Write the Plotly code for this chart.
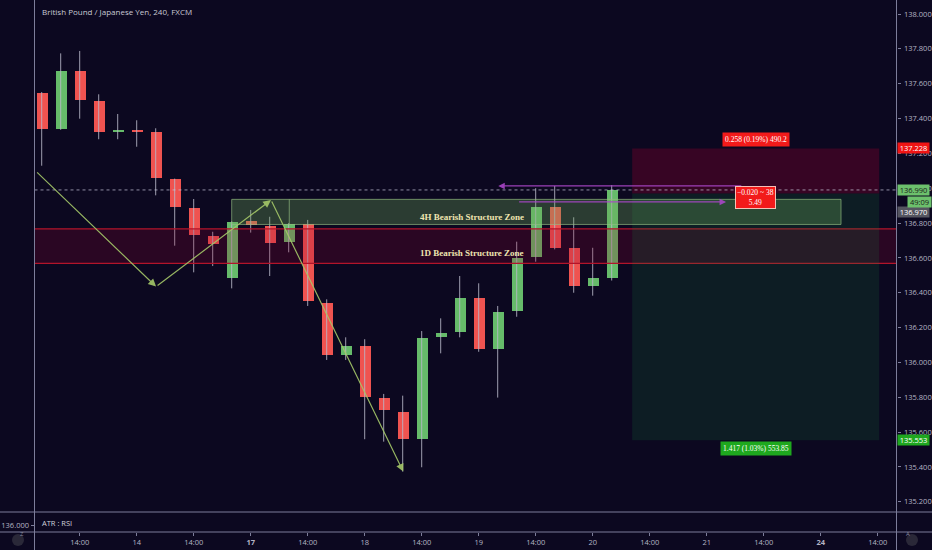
import plotly.graph_objects as go

# ---------------- data ----------------
candle_idx = list(range(31))
opens  = [137.545, 137.340, 137.675, 137.499, 137.325, 137.336, 137.323, 137.053, 136.886, 136.726,
          136.486, 136.812, 136.781, 136.689, 136.794, 136.343, 136.042, 136.094, 135.797, 135.717,
          135.560, 136.144, 136.173, 136.371, 136.075, 136.297, 136.603, 136.894, 136.655, 136.440, 136.486]
highs  = [137.552, 137.774, 137.788, 137.539, 137.426, 137.390, 137.344, 137.055, 136.938, 136.750,
          136.810, 136.875, 136.836, 136.800, 136.818, 136.362, 136.144, 136.133, 135.819, 135.809,
          136.180, 136.253, 136.496, 136.454, 136.324, 136.693, 137.000, 137.013, 136.833, 136.658, 137.018]
lows   = [137.129, 137.335, 137.399, 137.281, 137.281, 137.238, 136.959, 136.670, 136.517, 136.553,
          136.425, 136.745, 136.496, 136.632, 136.324, 136.014, 136.014, 135.559, 135.545, 135.373,
          135.398, 136.052, 136.144, 136.061, 135.798, 136.262, 136.578, 136.649, 136.400, 136.383, 136.470]
closes = [137.340, 137.675, 137.506, 137.321, 137.335, 137.328, 137.059, 136.894, 136.733, 136.681,
          136.808, 136.787, 136.687, 136.794, 136.352, 136.042, 136.094, 135.803, 135.725, 135.560,
          136.138, 136.170, 136.371, 136.075, 136.291, 136.601, 136.894, 136.658, 136.440, 136.486, 136.990]

tick_idx = [2, 5, 8, 11, 14, 17, 20, 23, 26, 29, 32, 35, 38, 41, 44]
tick_text = ["14:00", "14", "14:00", "<b>17</b>", "14:00", "18", "14:00", "19", "14:00", "20",
             "14:00", "21", "14:00", "<b>24</b>", "14:00"]
price_ticks = [135.2, 135.4, 135.6, 135.8, 136.0, 136.2, 136.4, 136.6, 136.8, 137.0,
               137.2, 137.4, 137.6, 137.8, 138.0]

zone_4h = [136.792, 136.936]
zone_4h_x = [10.0, 42.07]
zone_4h_split = 13.03
zone_1d = [136.569, 136.767]
trend_x = [-0.32, 6.02, 12.07, 19.03]
trend_y = [137.099, 136.435, 136.932, 135.373]
rr_x = [31.08, 44.08]
rr_stop, rr_entry, rr_target = 137.228, 136.970, 135.553
last_price = 136.990
purple_a = ([36.9, 24.03], 137.013)
purple_b = ([25.05, 36.02], 136.921)

# ---------------- style ----------------
BG = "#0c0820"
GREEN = "#66bb6a"
RED = "#ef5350"
WICK = "rgba(185,185,200,0.85)"
AXC = "#7d7d9a"
TXT = "#b4b4c4"
W, H = 932, 550
XL, XR = 34.5, 896.5
X_RANGE = [-0.379, 44.99]
Y_RANGE = [135.1412, 138.0804]

fig = go.Figure()

# wicks
wx, wy = [], []
for i, hi, lo in zip(candle_idx, highs, lows):
    wx += [i, i, None]
    wy += [lo, hi, None]
fig.add_trace(go.Scatter(x=wx, y=wy, mode="lines", line=dict(color=WICK, width=1),
                         hoverinfo="skip", showlegend=False))
# bodies
base = [min(o, c) for o, c in zip(opens, closes)]
height = [max(abs(c - o), 0.006) for o, c in zip(opens, closes)]
colors = [GREEN if c >= o else RED for o, c in zip(opens, closes)]
fig.add_trace(go.Bar(x=candle_idx, y=height, base=base, width=0.56,
                     marker=dict(color=colors, line=dict(width=0)), showlegend=False))

# ATR pane dummy trace
fig.add_trace(go.Scatter(x=[None], y=[None], xaxis="x2", yaxis="y2", showlegend=False))

shapes = []
# 1D zone
shapes.append(dict(type="rect", xref="x domain", yref="y", x0=0, x1=1, y0=zone_1d[0], y1=zone_1d[1],
                   fillcolor="rgba(150,0,45,0.22)", line=dict(width=0), layer="above"))
for yv in zone_1d:
    shapes.append(dict(type="line", xref="x domain", yref="y", x0=0, x1=1, y0=yv, y1=yv,
                       line=dict(color="#b3142a", width=1.3), layer="above"))
# RR boxes
shapes.append(dict(type="rect", xref="x", yref="y", x0=rr_x[0], x1=rr_x[1], y0=rr_entry, y1=rr_stop,
                   fillcolor="rgba(170,0,45,0.28)", line=dict(width=0), layer="above"))
shapes.append(dict(type="rect", xref="x", yref="y", x0=rr_x[0], x1=rr_x[1], y0=rr_target, y1=rr_entry,
                   fillcolor="rgba(20,140,60,0.16)", line=dict(width=0), layer="above"))
# 4H zone
shapes.append(dict(type="rect", xref="x", yref="y", x0=zone_4h_x[0], x1=zone_4h_x[1],
                   y0=zone_4h[0], y1=zone_4h[1], fillcolor="rgba(110,170,90,0.32)",
                   line=dict(color="rgba(150,190,130,0.65)", width=1), layer="above"))
shapes.append(dict(type="line", xref="x", yref="y", x0=zone_4h_split, x1=zone_4h_split,
                   y0=zone_4h[0], y1=zone_4h[1], line=dict(color="rgba(150,190,130,0.65)", width=1),
                   layer="above"))
# last price dotted line
shapes.append(dict(type="line", xref="x domain", yref="y", x0=0, x1=1, y0=last_price, y1=last_price,
                   line=dict(color="rgba(200,200,220,0.7)", width=1, dash="dot"), layer="above"))
# pane frame lines
for xp in (XL, XR):
    shapes.append(dict(type="line", xref="paper", yref="paper", x0=xp / W, x1=xp / W, y0=0, y1=1,
                       line=dict(color=AXC, width=1)))
for yp in (512, 532):
    shapes.append(dict(type="line", xref="paper", yref="paper", x0=0, x1=1, y0=1 - yp / H, y1=1 - yp / H,
                       line=dict(color=AXC, width=1)))
# circle buttons
for cx in (18, 912):
    shapes.append(dict(type="circle", xref="paper", yref="paper",
                       x0=(cx - 6) / W, x1=(cx + 6) / W, y0=1 - 546 / H, y1=1 - 534 / H,
                       fillcolor="#2a2838", line=dict(width=0)))

annotations = []
# title
annotations.append(dict(text="British Pound / Japanese Yen, 240, FXCM", xref="paper", yref="paper",
                        x=40 / W, y=1 - 11 / H, xanchor="left", yanchor="middle", showarrow=False,
                        font=dict(family="Open Sans", size=8, color="#c8c8d4")))
annotations.append(dict(text="ATR : RSI", xref="paper", yref="paper", x=40 / W, y=1 - 523 / H,
                        xanchor="left", yanchor="middle", showarrow=False,
                        font=dict(family="Open Sans", size=7.5, color="#d0d0da")))
for cx, t in ((18, "Z"), (912, "A")):
    annotations.append(dict(text=t, xref="paper", yref="paper", x=cx / W, y=1 - 540 / H,
                            showarrow=False, font=dict(family="Open Sans", size=6, color="#8a8aa0")))
# trend arrows
for k in range(len(trend_x) - 1):
    annotations.append(dict(x=trend_x[k + 1], y=trend_y[k + 1], ax=trend_x[k], ay=trend_y[k],
                            xref="x", yref="y", axref="x", ayref="y", text="", showarrow=True,
                            arrowhead=2, arrowsize=1.3, arrowwidth=1.2, standoff=0,
                            arrowcolor="rgba(165,200,105,0.9)"))
# purple lines
for (xs, yv) in (purple_a, purple_b):
    annotations.append(dict(x=xs[1], y=yv, ax=xs[0], ay=yv, xref="x", yref="y", axref="x", ayref="y",
                            text="", showarrow=True, arrowhead=2, arrowsize=1, arrowwidth=1.3,
                            standoff=0, arrowcolor="rgba(170,70,200,0.9)"))
# zone labels
zone_font = dict(family="Liberation Serif", size=9, color="#efe4b0")
annotations.append(dict(text="<b>4H Bearish Structure Zone</b>", x=22.65, y=136.835, xref="x", yref="y",
                        showarrow=False, font=zone_font))
annotations.append(dict(text="<b>1D Bearish Structure Zone</b>", x=22.65, y=136.63, xref="x", yref="y",
                        showarrow=False, font=zone_font))
# RR labels
rr_cx = (rr_x[0] + rr_x[1]) / 2
lab_font = dict(family="Liberation Serif", size=7.5, color="white")
annotations.append(dict(text="%.3f (%.2f%%) 490.2" % (rr_stop - rr_entry, (rr_stop - rr_entry) / rr_entry * 100),
                        x=rr_cx, y=rr_stop, xref="x", yref="y", yanchor="bottom", yshift=1,
                        showarrow=False, bgcolor="#f21a1a", borderpad=2, font=lab_font))
annotations.append(dict(text="%.3f (%.2f%%) 553.85" % (rr_entry - rr_target, (rr_entry - rr_target) / rr_entry * 100),
                        x=rr_cx, y=rr_target, xref="x", yref="y", yanchor="top", yshift=-1,
                        showarrow=False, bgcolor="#1ea81e", borderpad=2, font=lab_font))
annotations.append(dict(text="\u22120.020 ~ 38<br>5.49", x=rr_cx, y=rr_entry, xref="x", yref="y",
                        yanchor="middle", yshift=-4, showarrow=False, bgcolor="#f21a1a",
                        bordercolor="rgba(255,210,200,0.9)", borderwidth=1, borderpad=1,
                        font=dict(family="Liberation Serif", size=7.5, color="white")))
# right axis labels (136.970 label pushed down below the countdown, as in the original)
axlab = [(rr_stop, "137.228", "#f01414", "white", 0),
         (last_price, "136.990", "#6cc06c", "#1a1a1a", 0),
         (rr_entry, "136.970", "#555560", "white", -19),
         (rr_target, "135.553", "#1fa81f", "white", 0)]
for yv, t, bg, fc, dy in axlab:
    annotations.append(dict(text=t, xref="paper", yref="y", x=XR / W, y=yv, xanchor="left",
                            yanchor="middle", yshift=dy, showarrow=False, bgcolor=bg, width=31, height=10,
                            borderpad=0, font=dict(family="Open Sans", size=7.5, color=fc)))
annotations.append(dict(text="49:09", xref="paper", yref="y", x=1, y=last_price, xanchor="right",
                        yanchor="middle", yshift=-12, showarrow=False, bgcolor="#6cc06c",
                        width=23, height=10, borderpad=0,
                        font=dict(family="Open Sans", size=7.5, color="#1a1a1a")))

fig.update_layout(
    width=W, height=H, autosize=False, margin=dict(l=0, r=0, t=0, b=0),
    paper_bgcolor=BG, plot_bgcolor=BG, showlegend=False, bargap=0,
    shapes=shapes, annotations=annotations,
    xaxis=dict(domain=[XL / W, XR / W], range=X_RANGE, showticklabels=False, showgrid=False,
               zeroline=False, showline=False, fixedrange=True),
    yaxis=dict(domain=[1 - 512 / H, 1], range=Y_RANGE, side="right", showgrid=False, zeroline=False,
               tickvals=price_ticks, ticktext=["%.3f" % v for v in price_ticks],
               ticks="outside", ticklen=3, tickcolor=AXC, ticklabelstandoff=2,
               tickfont=dict(family="Open Sans", size=7.5, color=TXT)),
    xaxis2=dict(domain=[XL / W, XR / W], anchor="y2", range=X_RANGE, showgrid=False, zeroline=False,
                tickvals=tick_idx, ticktext=tick_text, ticks="outside", ticklen=3, tickcolor=AXC,
                tickfont=dict(family="Open Sans", size=7.5, color=TXT)),
    yaxis2=dict(domain=[1 - 532 / H, 1 - 512 / H], anchor="x2", range=[0, 1], side="left",
                showgrid=False, zeroline=False, tickvals=[0.35], ticktext=["136.000"],
                ticks="outside", ticklen=3, tickcolor=AXC,
                tickfont=dict(family="Open Sans", size=7.5, color=TXT)),
)

fig.write_html("out.html", config={"displayModeBar": False},
               post_script="document.body.style.margin='0';document.body.style.overflow='hidden';"
                           "document.body.style.background='" + BG + "';")
